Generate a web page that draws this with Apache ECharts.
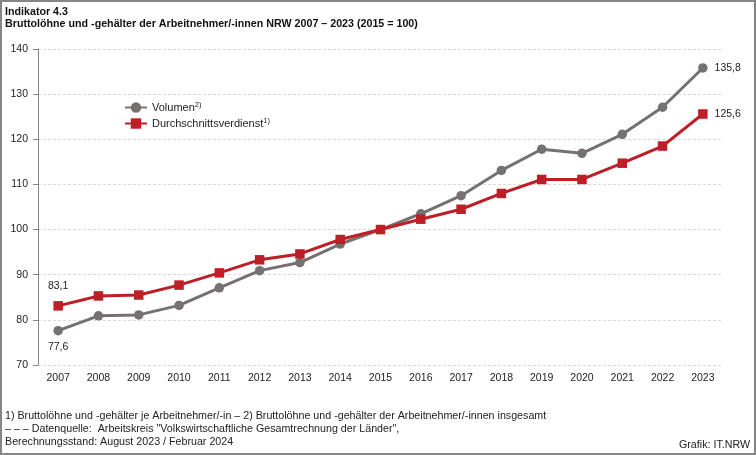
<!DOCTYPE html>
<html>
<head>
<meta charset="utf-8">
<title>Indikator 4.3</title>
<script src="https://cdn.jsdelivr.net/npm/echarts@6/dist/echarts.min.js"></script>
<style>
html, body { margin: 0; padding: 0; background: #fff; }
#main { width: 756px; height: 455px; }
</style>
</head>
<body>
<div id="main"></div>
<script>
var years = ['2007', '2008', '2009', '2010', '2011', '2012', '2013', '2014', '2015',
    '2016', '2017', '2018', '2019', '2020', '2021', '2022', '2023'];
var volumen = [77.6, 80.9, 81.1, 83.2, 87.1, 90.9, 92.7, 96.8, 100, 103.5, 107.5, 113.1, 117.8, 116.9, 121.1, 127.1, 135.8];
var verdienst = [83.1, 85.3, 85.5, 87.7, 90.4, 93.3, 94.6, 97.8, 100, 102.3, 104.5, 108, 111.1, 111.1, 114.7, 118.5, 125.6];
var titleLines = ['Indikator 4.3', 'Bruttolöhne und -gehälter der Arbeitnehmer/-innen NRW 2007 – 2023 (2015 = 100)'];
var footLines = [
    '1) Bruttolöhne und -gehälter je Arbeitnehmer/-in – 2) Bruttolöhne und -gehälter der Arbeitnehmer/-innen insgesamt',
    '– – – Datenquelle:  Arbeitskreis "Volkswirtschaftliche Gesamtrechnung der Länder",',
    'Berechnungsstand: August 2023 / Februar 2024'
];
var FONT = '"Liberation Sans", Arial, sans-serif';
var GREY = '#767171', RED = '#be1e26';

function comma(v) {
    return String(v.toFixed(1)).replace('.', ',');
}

// nur erster und letzter Punkt bekommen ein Label
function withLabels(values, firstPos, firstDist) {
    return values.map(function (v, i) {
        if (i === 0) return { value: v, label: { show: true, position: firstPos, distance: firstDist } };
        if (i === values.length - 1) return { value: v, label: { show: true, position: 'right', distance: 7 } };
        return v;
    });
}

function makeSeries(name, values, color, symbol, size, firstPos, firstDist) {
    return {
        name: name,
        type: 'line',
        data: withLabels(values, firstPos, firstDist),
        symbol: symbol,
        symbolSize: size,
        showAllSymbol: true,
        lineStyle: { color: color, width: 3 },
        itemStyle: { color: color },
        label: {
            show: false,
            color: '#222',
            fontSize: 10.5,
            fontFamily: FONT,
            formatter: function (p) { return comma(p.value); }
        },
        animation: false
    };
}

var option = {
    backgroundColor: '#fff',
    animation: false,
    grid: { left: 38, right: 33, top: 49, bottom: 90, containLabel: false },
    legend: {
        orient: 'vertical',
        left: 119,
        top: 96,
        itemWidth: 22,
        itemHeight: 13,
        itemGap: 4,
        data: ['Volumen', 'Durchschnittsverdienst'],
        formatter: function (name) {
            return name === 'Volumen' ? name + '{sup|2)}' : name + '{sup|1)}';
        },
        textStyle: {
            color: '#222',
            fontSize: 11,
            fontFamily: FONT,
            rich: {
                sup: { fontSize: 7.5, fontFamily: FONT, color: '#222', verticalAlign: 'top', padding: [0, 0, 5, 0] }
            }
        }
    },
    xAxis: {
        type: 'category',
        data: years,
        boundaryGap: true,
        axisLine: { show: false },
        axisTick: { show: false },
        axisLabel: { color: '#222', fontSize: 10.5, fontFamily: FONT, margin: 8, interval: 0 }
    },
    yAxis: {
        type: 'value',
        min: 70,
        max: 140,
        interval: 10,
        axisLine: { show: true, lineStyle: { color: '#868686', width: 1 } },
        axisTick: { show: true, length: 5, lineStyle: { color: '#868686', width: 1 } },
        axisLabel: { color: '#222', fontSize: 10.5, fontFamily: FONT, margin: 10 },
        splitLine: { show: true, lineStyle: { color: '#d9d9d9', width: 1, type: [3, 2] } }
    },
    series: [
        makeSeries('Volumen', volumen, GREY, 'circle', 9.5, 'bottom', 6),
        makeSeries('Durchschnittsverdienst', verdienst, RED, 'rect', 9.5, 'top', 10)
    ],
    graphic: [
        { type: 'rect', silent: true, z: -1, shape: { x: 1, y: 1, width: 754, height: 453 },
          style: { fill: '#fff', stroke: '#868686', lineWidth: 2 } },
        { type: 'text', left: 5, top: 7, style: { text: titleLines[0], fill: '#111', font: 'bold 10.7px ' + FONT } },
        { type: 'text', left: 5, top: 19, style: { text: titleLines[1], fill: '#111', font: 'bold 10.7px ' + FONT } },
        { type: 'text', left: 5, top: 411, style: { text: footLines[0], fill: '#222', font: '10.7px ' + FONT } },
        { type: 'text', left: 5, top: 424, style: { text: footLines[1], fill: '#222', font: '10.7px ' + FONT } },
        { type: 'text', left: 5, top: 437, style: { text: footLines[2], fill: '#222', font: '10.7px ' + FONT } },
        { type: 'text', left: 679, top: 440, style: { text: 'Grafik: IT.NRW', fill: '#222', font: '10.7px ' + FONT } }
    ]
};

var chart = echarts.init(document.getElementById('main'), null, { renderer: 'canvas' });
chart.setOption(option);
</script>
</body>
</html>
